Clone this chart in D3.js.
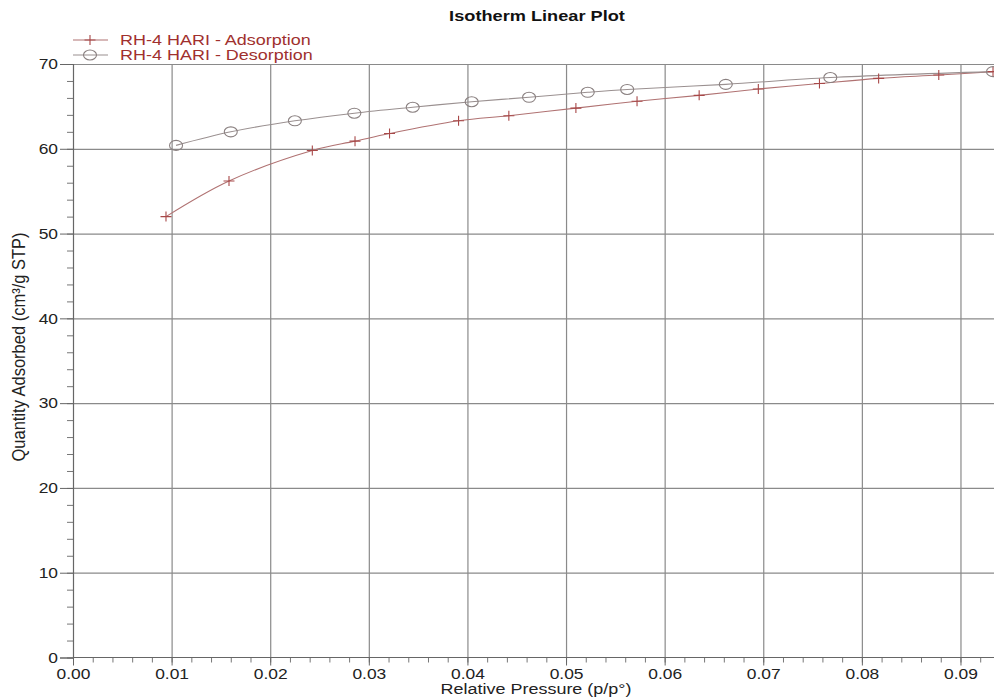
<!DOCTYPE html>
<html><head><meta charset="utf-8">
<script src="https://cdn.jsdelivr.net/npm/d3@7"></script>
<style>
body{margin:0;background:#fff;}
text{font-family:"Liberation Sans",Arial,sans-serif;}
</style></head>
<body><svg id="c" width="994" height="697"></svg>
<script>
const titleText = "Isotherm Linear Plot";
const xLabel = "Relative Pressure (p/p°)";
const yLabel = "Quantity Adsorbed (cm³/g STP)";
const seriesNames = ["RH-4 HARI - Adsorption", "RH-4 HARI - Desorption"];
const xTicks = [0,0.01,0.02,0.03,0.04,0.05,0.06,0.07,0.08,0.09];
const yTicks = [0,10,20,30,40,50,60,70];
const adsX = [0.00943,0.01582,0.02427,0.0286,0.0321,0.0391,0.0442,0.0510,0.0572,0.0635,0.0695,0.0757,0.0817,0.0878,0.0933];
const adsY = [52.0,56.2,59.8,60.9,61.8,63.3,63.9,64.8,65.6,66.3,67.05,67.7,68.3,68.7,69.1];
const desX = [0.0933,0.0768,0.0662,0.0562,0.0522,0.04625,0.04043,0.03445,0.02853,0.0225,0.0160,0.01045];
const desY = [69.1,68.4,67.6,67.0,66.66,66.07,65.55,64.9,64.2,63.3,62.0,60.4];

const svg = d3.select("#c");
const L = 73, R = 994, T = 64, B = 657.5;
const x = d3.scaleLinear().domain([0, 0.0934]).range([L, R]);
const y = d3.scaleLinear().domain([0, 70]).range([B, T]);
const SX = 1.2;
const gridCol = "#8a8a8a";

// grid
svg.append("g").attr("transform",`translate(0,${T})`)
  .call(d3.axisBottom(x).tickValues(xTicks.slice(1)).tickSize(B-T).tickFormat(""))
  .call(g=>g.select(".domain").remove())
  .call(g=>g.selectAll("line").attr("stroke",gridCol).attr("stroke-width",1.2));
svg.append("g").attr("transform",`translate(${L},0)`)
  .call(d3.axisRight(y).tickValues(yTicks.slice(1)).tickSize(R-L).tickFormat(""))
  .call(g=>g.select(".domain").remove())
  .call(g=>g.selectAll("line").attr("stroke",gridCol).attr("stroke-width",1.2));

// minor ticks
const xMinor = d3.range(0, 0.0934, 0.002);
svg.append("g").attr("transform",`translate(0,${B})`)
  .call(d3.axisBottom(x).tickValues(xMinor).tickSize(5).tickFormat(""))
  .call(g=>g.select(".domain").remove())
  .call(g=>g.selectAll("line").attr("stroke","#777"));
svg.append("g").attr("transform",`translate(${L},0)`)
  .call(d3.axisLeft(y).tickValues(d3.range(0,71,2)).tickSize(6).tickFormat(""))
  .call(g=>g.select(".domain").remove())
  .call(g=>g.selectAll("line").attr("stroke","#777"));

// major axes
const xa = svg.append("g").attr("transform",`translate(0,${B})`)
  .call(d3.axisBottom(x).tickValues(xTicks).tickSize(8).tickPadding(3).tickFormat(d3.format(".2f")));
const ya = svg.append("g").attr("transform",`translate(${L},0)`)
  .call(d3.axisLeft(y).tickValues(yTicks).tickSize(13).tickPadding(2).tickFormat(d3.format("d")));
[xa,ya].forEach(a=>{
  a.select(".domain").attr("stroke","#666").attr("stroke-width",1.2);
  a.selectAll("line").attr("stroke","#666");
  a.selectAll("text").attr("font-size",14.5).attr("fill","#222")
   .attr("font-family","'Liberation Sans',Arial,sans-serif");
});
xa.selectAll("text").attr("transform",`scale(${SX},1)`);
ya.selectAll("text").each(function(){const t=d3.select(this);t.attr("x",+t.attr("x")/SX);}).attr("transform",`scale(${SX},1)`);
xa.select(".domain").attr("d",`M${L},0H${R}`);

// lines
const colA = "#b07272", colD = "#9a9090";
const ads = adsX.map((v,i)=>[v,adsY[i]]);
const des = desX.map((v,i)=>[v,desY[i]]);
const line = d3.line().x(d=>x(d[0])).y(d=>y(d[1])).curve(d3.curveCatmullRom);
svg.append("path").attr("d",line(ads)).attr("fill","none").attr("stroke",colA).attr("stroke-width",1.1);
svg.append("path").attr("d",line(des)).attr("fill","none").attr("stroke",colD).attr("stroke-width",1.1);

function plus(g,cx,cy){
  g.append("path").attr("d",`M${cx-5.5},${cy}H${cx+5.5}M${cx},${cy-5}V${cy+5}`)
   .attr("stroke","#a84848").attr("stroke-width",1.1).attr("fill","none");
}
function circ(g,cx,cy){
  g.append("ellipse").attr("cx",cx).attr("cy",cy).attr("rx",6.5).attr("ry",5)
   .attr("stroke","#8a8080").attr("stroke-width",1.1).attr("fill","none");
}
const mk = svg.append("g");
ads.forEach(d=>plus(mk,x(d[0]),y(d[1])));
des.forEach(d=>circ(mk,x(d[0]),y(d[1])));

// legend
const lg = svg.append("g");
lg.append("line").attr("x1",73).attr("x2",108).attr("y1",40).attr("y2",40).attr("stroke",colA).attr("stroke-width",1.1);
plus(lg,90,40);
lg.append("line").attr("x1",73).attr("x2",108).attr("y1",55).attr("y2",55).attr("stroke",colD).attr("stroke-width",1.1);
circ(lg,90,55);
seriesNames.forEach((s,i)=>{
  lg.append("text").attr("transform",`translate(120,${45+i*15}) scale(1.24,1)`)
    .attr("font-size",14.5).attr("fill","#a0302e").text(s);
});

// title & labels
svg.append("text").attr("transform",`translate(537,21) scale(1.3,1)`).attr("text-anchor","middle")
  .attr("font-size",14).attr("font-weight","bold").attr("fill","#111").text(titleText);
svg.append("text").attr("transform",`translate(536,693.5) scale(1.24,1)`).attr("text-anchor","middle")
  .attr("font-size",14.5).attr("fill","#222").text(xLabel);
svg.append("text").attr("transform",`translate(25,347) rotate(-90) scale(1,1.1)`).attr("text-anchor","middle")
  .attr("font-size",16.5).attr("fill","#222").text(yLabel);
</script></body></html>
